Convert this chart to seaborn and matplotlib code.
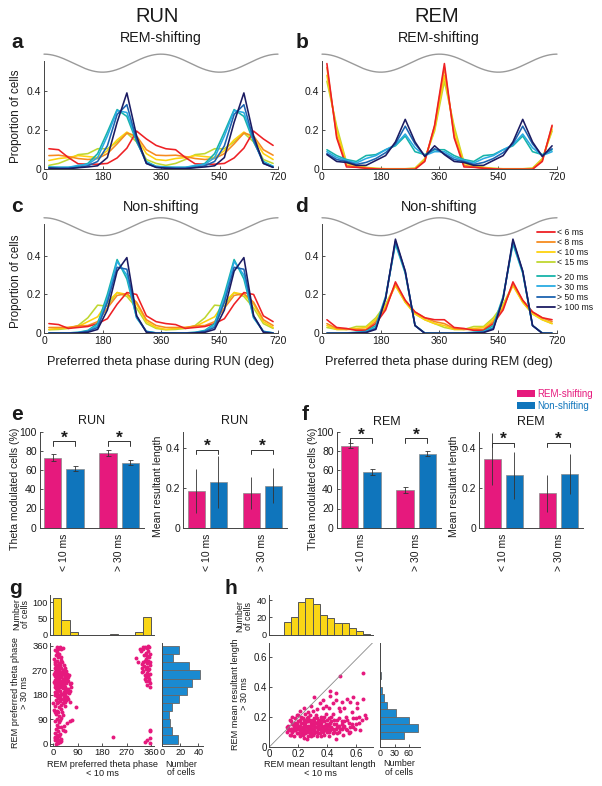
import numpy as np
import pandas as pd
import matplotlib
matplotlib.use("Agg")
import matplotlib.pyplot as plt
import seaborn as sns
from matplotlib.lines import Line2D
from matplotlib.patches import Patch

# ---------------- data ----------------
windows = ["< 6 ms", "< 8 ms", "< 10 ms", "< 15 ms", "> 20 ms", "> 30 ms", "> 50 ms", "> 100 ms"]
window_colors = ["#ee2024", "#f68b1f", "#fdd20e", "#bfd730", "#17b3a9", "#29abe2", "#1c63b0", "#1b1b62"]
draw_order = ["< 15 ms", "< 10 ms", "< 8 ms", "< 6 ms", "> 20 ms", "> 30 ms", "> 50 ms", "> 100 ms"]
phase_centers = [15, 45, 75, 105, 135, 165, 195, 225, 255, 285, 315, 345]
phase_ticks = [0, 180, 360, 540, 720]

# a: REM-shifting, RUN
a_lt6 = [0.105, 0.100, 0.060, 0.028, 0.026, 0.026, 0.030, 0.058, 0.108, 0.195, 0.155, 0.122]
a_lt8 = [0.070, 0.072, 0.065, 0.055, 0.050, 0.055, 0.080, 0.130, 0.185, 0.170, 0.100, 0.072]
a_lt10 = [0.045, 0.055, 0.060, 0.070, 0.065, 0.060, 0.095, 0.150, 0.190, 0.160, 0.080, 0.050]
a_lt15 = [0.020, 0.030, 0.050, 0.075, 0.080, 0.105, 0.105, 0.140, 0.185, 0.140, 0.050, 0.030]
a_gt20 = [0.012, 0.010, 0.010, 0.015, 0.030, 0.080, 0.190, 0.305, 0.270, 0.140, 0.040, 0.015]
a_gt30 = [0.010, 0.010, 0.010, 0.020, 0.025, 0.060, 0.170, 0.300, 0.290, 0.150, 0.035, 0.015]
a_gt50 = [0.008, 0.006, 0.006, 0.010, 0.018, 0.040, 0.120, 0.280, 0.330, 0.150, 0.030, 0.010]
a_gt100 = [0.005, 0.003, 0.003, 0.008, 0.012, 0.018, 0.060, 0.240, 0.390, 0.170, 0.030, 0.010]

# b: REM-shifting, REM
b_lt6 = [0.540, 0.160, 0.012, 0.010, 0.005, 0.002, 0.000, 0.000, 0.000, 0.000, 0.040, 0.225]
b_lt8 = [0.520, 0.170, 0.020, 0.012, 0.006, 0.003, 0.001, 0.001, 0.001, 0.002, 0.045, 0.220]
b_lt10 = [0.480, 0.200, 0.030, 0.018, 0.008, 0.004, 0.002, 0.002, 0.002, 0.004, 0.050, 0.205]
b_lt15 = [0.450, 0.220, 0.035, 0.022, 0.010, 0.005, 0.003, 0.003, 0.003, 0.006, 0.055, 0.195]
b_gt20 = [0.100, 0.070, 0.050, 0.040, 0.070, 0.075, 0.100, 0.120, 0.170, 0.090, 0.075, 0.100]
b_gt30 = [0.090, 0.060, 0.045, 0.032, 0.055, 0.070, 0.100, 0.125, 0.180, 0.110, 0.070, 0.090]
b_gt50 = [0.080, 0.050, 0.040, 0.025, 0.035, 0.055, 0.085, 0.130, 0.220, 0.130, 0.070, 0.105]
b_gt100 = [0.075, 0.040, 0.035, 0.020, 0.020, 0.045, 0.070, 0.140, 0.255, 0.140, 0.065, 0.120]

# c: Non-shifting, RUN
c_lt6 = [0.050, 0.045, 0.025, 0.030, 0.035, 0.050, 0.075, 0.150, 0.210, 0.200, 0.090, 0.060]
c_lt8 = [0.030, 0.030, 0.030, 0.038, 0.040, 0.060, 0.130, 0.195, 0.205, 0.160, 0.070, 0.040]
c_lt10 = [0.020, 0.025, 0.030, 0.035, 0.060, 0.085, 0.160, 0.210, 0.200, 0.150, 0.060, 0.030]
c_lt15 = [0.018, 0.020, 0.025, 0.040, 0.080, 0.145, 0.140, 0.210, 0.190, 0.130, 0.050, 0.025]
c_gt20 = [0.002, 0.001, 0.002, 0.005, 0.015, 0.050, 0.200, 0.380, 0.280, 0.080, 0.010, 0.002]
c_gt30 = [0.002, 0.001, 0.002, 0.004, 0.012, 0.040, 0.180, 0.370, 0.300, 0.080, 0.010, 0.002]
c_gt50 = [0.001, 0.001, 0.001, 0.003, 0.010, 0.030, 0.160, 0.340, 0.330, 0.090, 0.008, 0.001]
c_gt100 = [0.000, 0.000, 0.000, 0.002, 0.005, 0.020, 0.120, 0.320, 0.390, 0.090, 0.005, 0.000]

# d: Non-shifting, REM
d_lt6 = [0.070, 0.030, 0.025, 0.015, 0.015, 0.050, 0.120, 0.265, 0.170, 0.110, 0.080, 0.070]
d_lt8 = [0.050, 0.025, 0.020, 0.020, 0.020, 0.060, 0.130, 0.255, 0.170, 0.110, 0.080, 0.060]
d_lt10 = [0.040, 0.020, 0.020, 0.025, 0.030, 0.070, 0.140, 0.245, 0.160, 0.100, 0.070, 0.050]
d_lt15 = [0.030, 0.020, 0.020, 0.035, 0.035, 0.080, 0.150, 0.250, 0.160, 0.100, 0.070, 0.050]
d_gt20 = [0.000, 0.000, 0.002, 0.005, 0.010, 0.040, 0.190, 0.460, 0.310, 0.040, 0.002, 0.000]
d_gt30 = [0.000, 0.000, 0.001, 0.004, 0.008, 0.030, 0.185, 0.470, 0.315, 0.040, 0.001, 0.000]
d_gt50 = [0.000, 0.000, 0.000, 0.003, 0.005, 0.025, 0.180, 0.475, 0.320, 0.040, 0.000, 0.000]
d_gt100 = [0.000, 0.000, 0.000, 0.002, 0.004, 0.020, 0.180, 0.485, 0.320, 0.040, 0.000, 0.000]

# e / f bar panels
groups = ["< 10 ms", "> 30 ms"]
cell_types = ["REM-shifting", "Non-shifting"]
cell_colors = ["#e6197d", "#0f75bc"]

e_mod_shift = [73.0, 78.0]
e_mod_shift_err = [3.5, 3.0]
e_mod_non = [61.5, 67.5]
e_mod_non_err = [2.5, 2.5]
e_mrl_shift = [0.183, 0.172]
e_mrl_shift_err = [0.110, 0.080]
e_mrl_non = [0.228, 0.210]
e_mrl_non_err = [0.130, 0.088]

f_mod_shift = [85.4, 39.3]
f_mod_shift_err = [2.5, 3.5]
f_mod_non = [58.3, 77.0]
f_mod_non_err = [3.0, 2.5]
f_mrl_shift = [0.342, 0.172]
f_mrl_shift_err = [0.130, 0.093]
f_mrl_non = [0.262, 0.270]
f_mrl_non_err = [0.118, 0.100]

# g: preferred phase scatter + marginal histograms
g_short_phase = [12, 18, 25, 8, 30, 15, 22, 10, 28, 35,
                 5, 12, 20, 8, 25, 15, 30, 38, 10, 22,
                 5, 12, 18, 25, 32, 40, 8, 15, 22, 30, 45, 50, 10, 20, 35, 55, 3, 28,
                 5, 12, 18, 25, 33, 40, 48, 8, 15, 22, 30, 38, 55, 60, 45,
                 10, 18, 25, 35, 42, 50, 15, 28, 38, 55, 62, 8, 20,
                 12, 22, 30, 40, 48, 18, 35, 55, 0,
                 8, 20, 30, 15, 42, 85, 2,
                 10, 20, 28, 15, 35, 5, 25,
                 50, 62, 40, 12, 30, 70,
                 10, 18, 5, 25, 15, 45,
                 8, 15, 20, 12, 25, 5, 18, 30, 10,
                 7, 14, 21, 27, 17, 33, 4, 11, 19, 26, 36, 42, 47, 6, 14, 29, 37, 43, 52, 58,
                 4, 10, 20, 27, 36, 44, 65, 7, 13, 23, 31, 40, 47, 57, 66, 5, 16, 26, 33, 45,
                 52, 9, 24, 38, 60, 12, 27, 45, 18, 32, 8, 22, 16, 35, 6, 22, 14, 28,
                 338, 345, 352, 330, 322, 348, 355, 335, 305, 340,
                 350, 345, 356, 333, 340, 350, 345, 356, 338, 348,
                 352, 342, 355, 357, 328, 330, 345, 312, 325, 336,
                 332, 347, 320, 342, 351, 337, 356, 326, 346, 353, 331, 348, 340, 353, 346,
                 355, 357, 355, 345, 338, 358, 220]
g_long_phase = [355, 350, 357, 345, 348, 338, 330, 325, 320, 352,
                295, 290, 285, 280, 282, 275, 278, 290, 270, 268,
                265, 260, 262, 258, 255, 262, 250, 248, 252, 245, 250, 258, 240, 242, 240, 245, 255, 265,
                235, 230, 225, 232, 228, 235, 222, 218, 215, 212, 220, 215, 230, 218, 210,
                205, 200, 195, 205, 198, 190, 185, 182, 188, 200, 195, 192, 180,
                175, 170, 165, 172, 160, 155, 150, 165, 148,
                140, 135, 128, 122, 138, 135, 125,
                110, 100, 95, 92, 105, 115, 88,
                75, 85, 65, 70, 60, 88,
                55, 48, 40, 35, 30, 45,
                25, 20, 12, 8, 5, 15, 2, 18, 0,
                300, 305, 298, 310, 318, 302, 312, 285, 272, 290, 270, 280, 268, 258, 253, 250,
                257, 244, 238, 252, 228, 222, 236, 225, 232, 226, 225, 210, 198, 207, 210, 192,
                203, 185, 208, 180, 168, 176, 182, 178, 172, 160, 158, 162, 155, 148, 143, 152,
                115, 118, 85, 78, 62, 50, 20, 28, 14, 8,
                358, 352, 356, 348, 340, 342, 332, 326, 315, 312,
                306, 296, 290, 288, 276, 270, 262, 258, 252, 246,
                238, 230, 222, 208, 280, 300, 322, 300, 265, 240,
                355, 360, 350, 335, 318, 305, 300, 292, 284, 276, 268, 254, 244, 232, 216,
                52, 45, 22, 12, 6, 4, 25]
phase_hist_centers = [15, 45, 75, 105, 135, 165, 195, 225, 255, 285, 315, 345]
g_top_counts = [113, 46, 7, 0, 0, 0, 0, 1, 0, 0, 7, 54]
g_right_counts = [17, 11, 8, 7, 11, 18, 27, 33, 42, 29, 12, 19]

# h: mean resultant length scatter + marginal histograms
h_short_mrl = [0.12, 0.13, 0.14, 0.15, 0.15, 0.16, 0.17, 0.17, 0.18, 0.18, 0.19, 0.19, 0.20, 0.20,
               0.21, 0.21, 0.22, 0.22, 0.23, 0.23, 0.24, 0.24, 0.24, 0.25, 0.25, 0.26, 0.26, 0.27,
               0.27, 0.27, 0.28, 0.28, 0.29, 0.29, 0.30, 0.30, 0.30, 0.31, 0.31, 0.32, 0.32, 0.33,
               0.33, 0.34, 0.34, 0.35, 0.35, 0.36, 0.36, 0.37, 0.37, 0.38, 0.38, 0.39, 0.39, 0.40,
               0.40, 0.41, 0.42, 0.42, 0.43, 0.44, 0.44, 0.45, 0.46, 0.46, 0.47, 0.48, 0.48, 0.49,
               0.50, 0.50, 0.51, 0.52, 0.53, 0.54, 0.55, 0.56, 0.57, 0.58, 0.60, 0.61, 0.62, 0.63,
               0.64, 0.66, 0.67,
               0.14, 0.16, 0.19, 0.21, 0.23, 0.25, 0.26, 0.28, 0.29, 0.31, 0.33, 0.35, 0.36, 0.38,
               0.40, 0.41, 0.43, 0.45, 0.47, 0.52, 0.55, 0.58, 0.60,
               0.21, 0.24, 0.27, 0.29, 0.31, 0.33, 0.35, 0.37, 0.39, 0.41, 0.42, 0.44, 0.46, 0.48,
               0.49, 0.50, 0.52, 0.54, 0.56, 0.58, 0.61, 0.65, 0.65, 0.42, 0.46,
               0.13, 0.15, 0.16, 0.17, 0.18, 0.19, 0.20, 0.20, 0.21, 0.22, 0.22, 0.23, 0.23, 0.24,
               0.24, 0.25, 0.25, 0.26, 0.26, 0.27, 0.27, 0.28, 0.28, 0.29, 0.29, 0.30, 0.30, 0.31,
               0.31, 0.32, 0.32, 0.33, 0.33, 0.34, 0.34, 0.35, 0.36, 0.36, 0.37, 0.37, 0.38, 0.38,
               0.39, 0.40, 0.41, 0.41, 0.42, 0.43, 0.44, 0.45, 0.46, 0.47, 0.48, 0.49, 0.50, 0.51,
               0.53, 0.54, 0.56, 0.57, 0.59, 0.62, 0.18, 0.16, 0.14, 0.12]
h_long_mrl = [0.10, 0.14, 0.08, 0.12, 0.17, 0.10, 0.14, 0.07, 0.19, 0.11, 0.09, 0.15, 0.13, 0.21,
              0.07, 0.11, 0.16, 0.09, 0.13, 0.19, 0.06, 0.11, 0.15, 0.09, 0.22, 0.13, 0.17, 0.07,
              0.11, 0.20, 0.14, 0.09, 0.16, 0.12, 0.08, 0.18, 0.24, 0.11, 0.14, 0.10, 0.21, 0.13,
              0.07, 0.17, 0.12, 0.09, 0.15, 0.20, 0.11, 0.13, 0.26, 0.08, 0.17, 0.12, 0.22, 0.14,
              0.10, 0.19, 0.11, 0.16, 0.13, 0.22, 0.09, 0.15, 0.12, 0.05, 0.18, 0.10, 0.14, 0.24,
              0.12, 0.17, 0.08, 0.14, 0.20, 0.11, 0.16, 0.13, 0.23, 0.19, 0.15, 0.26, 0.20, 0.11,
              0.18, 0.21, 0.19,
              0.18, 0.20, 0.21, 0.18, 0.10, 0.14, 0.05, 0.18, 0.07, 0.19, 0.16, 0.12, 0.07, 0.14,
              0.18, 0.07, 0.17, 0.10, 0.13, 0.17, 0.09, 0.13, 0.19,
              0.24, 0.26, 0.23, 0.27, 0.33, 0.25, 0.29, 0.31, 0.27, 0.26, 0.37, 0.29, 0.31, 0.26,
              0.47, 0.30, 0.26, 0.32, 0.30, 0.33, 0.29, 0.49, 0.32, 0.34, 0.36,
              0.12, 0.08, 0.15, 0.11, 0.16, 0.12, 0.09, 0.17, 0.14, 0.12, 0.20, 0.16, 0.08, 0.13,
              0.18, 0.11, 0.16, 0.10, 0.19, 0.14, 0.17, 0.12, 0.21, 0.10, 0.14, 0.12, 0.15, 0.09,
              0.17, 0.13, 0.16, 0.10, 0.19, 0.14, 0.09, 0.18, 0.14, 0.16, 0.10, 0.18, 0.11, 0.20,
              0.15, 0.12, 0.15, 0.10, 0.13, 0.20, 0.12, 0.18, 0.15, 0.09, 0.19, 0.12, 0.15, 0.13,
              0.12, 0.18, 0.10, 0.15, 0.12, 0.16, 0.13, 0.12, 0.11, 0.13]
h_top_centers = [0.125, 0.175, 0.225, 0.275, 0.325, 0.375, 0.425, 0.475, 0.525, 0.575, 0.625, 0.675]
h_top_counts = [15, 21, 38, 43, 36, 23, 19, 14, 13, 8, 4, 1]
h_right_centers = [0.075, 0.125, 0.175, 0.225, 0.275, 0.325, 0.375, 0.425, 0.475]
h_right_counts = [50, 78, 61, 32, 14, 8, 3, 0, 2]

# ---------------- style ----------------
sns.set_style("ticks")
plt.rcParams["font.family"] = ["Liberation Sans", "DejaVu Sans"]
plt.rcParams["xtick.direction"] = "in"
plt.rcParams["ytick.direction"] = "in"
plt.rcParams["axes.linewidth"] = 0.7
plt.rcParams["text.color"] = "#1a1a1a"
plt.rcParams["xtick.color"] = "#333333"
plt.rcParams["ytick.color"] = "#333333"
plt.rcParams["xtick.labelcolor"] = "#1a1a1a"
plt.rcParams["ytick.labelcolor"] = "#1a1a1a"

W, H = 602, 786
fig = plt.figure(figsize=(W / 100, H / 100), dpi=100)


def rect(l, t, r, b):
    return [l / W, 1 - b / H, (r - l) / W, (b - t) / H]


def fx(x):
    return x / W


def fy(y):
    return 1 - y / H


def style_axes(ax, labelsize=7.5, pad=2):
    sns.despine(ax=ax)
    for s in ("left", "bottom"):
        ax.spines[s].set_color("#444444")
        ax.spines[s].set_linewidth(0.7)
    ax.tick_params(length=2.5, width=0.6, labelsize=labelsize, pad=pad)
    ax.set_xlabel("")
    ax.set_ylabel("")


palette = dict(zip(windows, window_colors))


def line_panel(rect_px, series, ymax, sine_mid):
    ax = fig.add_axes(rect(*rect_px))
    rows = []
    for w, vals in zip(windows, series):
        for cycle in (0, 360):
            for p, v in zip(phase_centers, vals):
                rows.append((w, p + cycle, v))
    df = pd.DataFrame(rows, columns=["window", "phase", "prop"])
    sns.lineplot(data=df, x="phase", y="prop", hue="window", hue_order=draw_order,
                 palette=palette, linewidth=1.15, legend=False, errorbar=None, ax=ax)
    theta = np.linspace(0, 720, 400)
    ax.plot(theta, sine_mid + 0.046 * np.cos(np.deg2rad(theta)), color="#9a9a9a",
            lw=1.0, clip_on=False)
    ax.set_xlim(0, 720)
    ax.set_ylim(0, ymax)
    ax.set_xticks(phase_ticks)
    ax.set_xticklabels([str(t) for t in phase_ticks])
    ax.set_yticks([0, 0.2, 0.4])
    ax.set_yticklabels(["0", "0.2", "0.4"])
    style_axes(ax)
    return ax


ax_a = line_panel((44, 61, 278, 169.3),
                  [a_lt6, a_lt8, a_lt10, a_lt15, a_gt20, a_gt30, a_gt50, a_gt100], 0.553, 0.542)
ax_b = line_panel((322, 61, 557, 169.3),
                  [b_lt6, b_lt8, b_lt10, b_lt15, b_gt20, b_gt30, b_gt50, b_gt100], 0.553, 0.542)
ax_c = line_panel((44, 224, 278, 333.3),
                  [c_lt6, c_lt8, c_lt10, c_lt15, c_gt20, c_gt30, c_gt50, c_gt100], 0.563, 0.549)
ax_d = line_panel((322, 224, 557, 333.3),
                  [d_lt6, d_lt8, d_lt10, d_lt15, d_gt20, d_gt30, d_gt50, d_gt100], 0.563, 0.549)

# legend of panel d (two blocks)
leg_kw = dict(loc="upper left", bbox_transform=fig.transFigure, frameon=False, fontsize=6.3,
              handlelength=2.0, handletextpad=0.3, labelspacing=0.12, borderpad=0,
              borderaxespad=0)
warm = [Line2D([], [], color=c, lw=1.3) for c in window_colors[:4]]
cool = [Line2D([], [], color=c, lw=1.3) for c in window_colors[4:]]
leg1 = ax_d.legend(warm, windows[:4], bbox_to_anchor=(fx(537), fy(228)), **leg_kw)
ax_d.add_artist(leg1)
ax_d.legend(cool, windows[4:], bbox_to_anchor=(fx(537), fy(272.5)), **leg_kw)

# texts top section
fig.text(fx(157), fy(17), "RUN", fontsize=14.5, ha="center", va="center")
fig.text(fx(437), fy(17), "REM", fontsize=14.5, ha="center", va="center")
for x, y, s in [(17, 42, "a"), (302, 42, "b"), (17, 207, "c"), (302, 207, "d"),
                (17, 414, "e"), (305, 414, "f"), (16, 588, "g"), (231, 588, "h")]:
    fig.text(fx(x), fy(y), s, fontsize=15, fontweight="bold", ha="center", va="center")
for x, y, s in [(161, 38, "REM-shifting"), (439, 38, "REM-shifting"),
                (161, 207, "Non-shifting"), (439, 207, "Non-shifting")]:
    fig.text(fx(x), fy(y), s, fontsize=10.3, ha="center", va="center")
fig.text(fx(16.5), fy(116), "Proportion of cells", fontsize=8.4, rotation=90,
         ha="center", va="center")
fig.text(fx(16.5), fy(281), "Proportion of cells", fontsize=8.4, rotation=90,
         ha="center", va="center")
fig.text(fx(161), fy(362), "Preferred theta phase during RUN (deg)", fontsize=9.2,
         ha="center", va="center")
fig.text(fx(439), fy(362), "Preferred theta phase during REM (deg)", fontsize=9.2,
         ha="center", va="center")


# ---------------- bar panels ----------------
def bar_panel(rect_px, shift_vals, shift_err, non_vals, non_err, ymax, yticks, ylabels,
              capsize, bracket, tick_lo, star_y):
    ax = fig.add_axes(rect(*rect_px))
    df = pd.DataFrame({"window": groups + groups,
                       "cells": [cell_types[0]] * 2 + [cell_types[1]] * 2,
                       "value": shift_vals + non_vals})
    sns.barplot(data=df, x="window", y="value", hue="cells", hue_order=cell_types,
                palette=cell_colors, saturation=1, width=0.8, gap=0.22, edgecolor="#8a8a8a",
                linewidth=0.5, errorbar=None, legend=False, ax=ax)
    bars = sorted(ax.patches, key=lambda p: p.get_x())
    errs = [shift_err[0], non_err[0], shift_err[1], non_err[1]]
    centers = []
    for bar, e in zip(bars, errs):
        xc = bar.get_x() + bar.get_width() / 2
        centers.append(xc)
        ax.errorbar(xc, bar.get_height(), yerr=e, color="#333333", lw=0.6,
                    capsize=capsize, capthick=0.6, zorder=5)
    for i in range(2):
        xp, xb = centers[2 * i], centers[2 * i + 1]
        ax.plot([xp, xp, xb, xb], [tick_lo, bracket, bracket, tick_lo], color="#333333",
                lw=0.7, clip_on=False)
        ax.text((xp + xb) / 2, star_y, "*", fontsize=12.5, fontweight="bold",
                ha="center", va="center")
    ax.set_ylim(0, ymax)
    ax.set_yticks(yticks)
    ax.set_yticklabels(ylabels)
    style_axes(ax)
    ax.set_xticks([0, 1])
    ax.set_xticklabels(groups, rotation=90, va="top", ha="center")
    ax.tick_params(axis="x", length=0, pad=4)
    return ax


pct_ticks = [0, 20, 40, 60, 80, 100]
pct_labels = [str(t) for t in pct_ticks]
mrl_ticks = [0, 0.2, 0.4]
mrl_labels = ["0", "0.2", "0.4"]

bar_panel((39.5, 431.7, 143.5, 527.7), e_mod_shift, e_mod_shift_err, e_mod_non,
          e_mod_non_err, 100, pct_ticks, pct_labels, 1.8, 90.3, 85, 93.5)
bar_panel((182.8, 431.7, 286.8, 527.7), e_mrl_shift, e_mrl_shift_err, e_mrl_non,
          e_mrl_non_err, 0.48, mrl_ticks, mrl_labels, 0, 0.39, 0.367, 0.405)
bar_panel((336.5, 431.7, 440.5, 527.7), f_mod_shift, f_mod_shift_err, f_mod_non,
          f_mod_non_err, 100, pct_ticks, pct_labels, 1.8, 93, 88, 96.5)
bar_panel((478.8, 431.7, 583, 527.7), f_mrl_shift, f_mrl_shift_err, f_mrl_non,
          f_mrl_non_err, 0.48, mrl_ticks, mrl_labels, 0, 0.425, 0.403, 0.44)

for x, y, s in [(92, 421, "RUN"), (235, 421, "RUN"), (387, 422, "REM"), (531, 422, "REM")]:
    fig.text(fx(x), fy(y), s, fontsize=9, ha="center", va="center")
for x, s in [(15, "Theta modulated cells (%)"), (313, "Theta modulated cells (%)")]:
    fig.text(fx(x), fy(489), s, fontsize=7.6, rotation=90, ha="center", va="center")
for x, s in [(158, "Mean resultant length"), (454, "Mean resultant length")]:
    fig.text(fx(x), fy(486), s, fontsize=7.6, rotation=90, ha="center", va="center")

bar_handles = [Patch(facecolor=c, edgecolor="none") for c in cell_colors]
bleg = fig.legend(bar_handles, cell_types, loc="upper left", bbox_to_anchor=(fx(517), fy(389)),
                  frameon=False, fontsize=7, handlelength=1.85, handleheight=0.65,
                  handletextpad=0.25, labelspacing=0.2, borderpad=0, borderaxespad=0)
for t, c in zip(bleg.get_texts(), cell_colors):
    t.set_color(c)

# ---------------- g ----------------
yellow = "#f9d616"
hist_blue = "#1a8ad1"
pink = cell_colors[0]
phase_edges = np.linspace(0, 360, 13).tolist()

ax_gt = fig.add_axes(rect(50, 595, 154.3, 634.7))
sns.histplot(x=phase_hist_centers, weights=g_top_counts, bins=phase_edges, color=yellow,
             edgecolor="#555555", linewidth=0.7, alpha=1, ax=ax_gt)
ax_gt.set_xlim(-12, 372)
ax_gt.set_ylim(0, 122)
ax_gt.set_xticks([])
ax_gt.set_yticks([0, 50, 100])
style_axes(ax_gt, 6.6, 1.5)

ax_g = fig.add_axes(rect(50, 643, 154.3, 745.5))
sns.scatterplot(x=g_short_phase, y=g_long_phase, color=pink, s=8, linewidth=0, ax=ax_g)
ax_g.set_xlim(-12, 372)
ax_g.set_ylim(-7, 371)
ax_g.set_xticks([0, 90, 180, 270, 360])
ax_g.set_yticks([0, 90, 180, 270, 360])
style_axes(ax_g, 6.8, 1.5)

ax_gr = fig.add_axes(rect(162.3, 643, 203, 745.5))
sns.histplot(y=phase_hist_centers, weights=g_right_counts, bins=phase_edges, color=hist_blue,
             edgecolor="#666666", linewidth=0.6, alpha=1, ax=ax_gr)
ax_gr.set_ylim(-7, 371)
ax_gr.set_xlim(0, 45)
ax_gr.set_xticks([0, 20, 40])
ax_gr.set_yticks([])
style_axes(ax_gr, 6.6, 1.5)

fig.text(fx(21), fy(614), "Number\nof cells", fontsize=6.4, rotation=90, ha="center",
         va="center", linespacing=0.95)
fig.text(fx(20), fy(693), "REM preferred theta phase\n> 30 ms", fontsize=6.6, rotation=90,
         ha="center", va="center", linespacing=1.05)
fig.text(fx(102.5), fy(769), "REM preferred theta phase\n< 10 ms", fontsize=6.6,
         ha="center", va="center", linespacing=1.05)
fig.text(fx(181), fy(768.5), "Number\nof cells", fontsize=6.4, ha="center", va="center",
         linespacing=0.95)

# ---------------- h ----------------
ax_ht = fig.add_axes(rect(269.3, 595, 372.7, 634.7))
sns.histplot(x=h_top_centers, weights=h_top_counts, bins=np.linspace(0.1, 0.7, 13).tolist(),
             color=yellow, edgecolor="#555555", linewidth=0.7, alpha=1, ax=ax_ht)
ax_ht.set_xlim(0, 0.716)
ax_ht.set_ylim(0, 46)
ax_ht.set_xticks([])
ax_ht.set_yticks([0, 20, 40])
style_axes(ax_ht, 6.6, 1.5)

ax_h = fig.add_axes(rect(269.3, 642.7, 372.7, 747))
sns.scatterplot(x=h_short_mrl, y=h_long_mrl, color=pink, s=8, linewidth=0, ax=ax_h)
ax_h.plot([0, 1], [0, 1], transform=ax_h.transAxes, color="#888888", lw=0.6)
ax_h.set_xlim(0, 0.716)
ax_h.set_ylim(0, 0.695)
ax_h.set_xticks([0, 0.2, 0.4, 0.6])
ax_h.set_xticklabels(["0", "0.2", "0.4", "0.6"])
ax_h.set_yticks([0, 0.2, 0.4, 0.6])
ax_h.set_yticklabels(["0", "0.2", "0.4", "0.6"])
style_axes(ax_h, 7, 1.5)

ax_hr = fig.add_axes(rect(380.3, 642.7, 420, 747))
sns.histplot(y=h_right_centers, weights=h_right_counts, bins=np.linspace(0.05, 0.5, 10).tolist(),
             color=hist_blue, edgecolor="#666666", linewidth=0.6, alpha=1, ax=ax_hr)
ax_hr.set_ylim(0, 0.695)
ax_hr.set_xlim(0, 83)
ax_hr.set_xticks([0, 30, 60])
ax_hr.set_yticks([])
style_axes(ax_hr, 6.4, 1.5)

fig.text(fx(244), fy(616), "Number\nof cells", fontsize=6.4, rotation=90, ha="center",
         va="center", linespacing=0.95)
fig.text(fx(240), fy(694), "REM mean resultant length\n> 30 ms", fontsize=6.6, rotation=90,
         ha="center", va="center", linespacing=1.05)
fig.text(fx(320), fy(769), "REM mean resultant length\n< 10 ms", fontsize=6.6,
         ha="center", va="center", linespacing=1.05)
fig.text(fx(399), fy(768), "Number\nof cells", fontsize=6.4, ha="center", va="center",
         linespacing=0.95)

fig.savefig("out.png", dpi=100)
